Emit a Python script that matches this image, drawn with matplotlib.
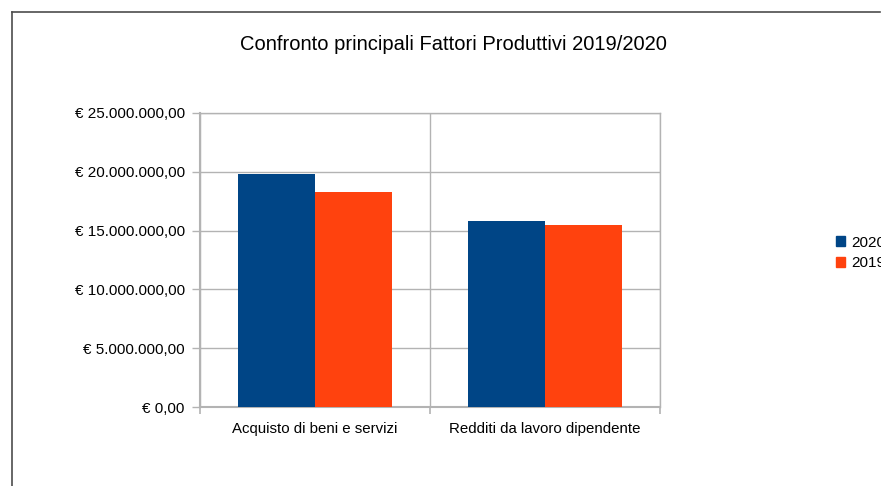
import matplotlib

matplotlib.use("Agg")
import matplotlib.pyplot as plt  # plotting
import numpy as np  # positions
from matplotlib.lines import Line2D
from matplotlib.patches import Patch

plt.rcParams["font.family"] = ["Liberation Sans", "DejaVu Sans"]

# data
categories = ["Acquisto di beni e servizi", "Redditi da lavoro dipendente"]
series_names = ["2020", "2019"]
values_2020 = [19800000, 15820000]
values_2019 = [18270000, 15480000]
y_ticks = [0, 5000000, 10000000, 15000000, 20000000, 25000000]
y_tick_labels = [
    "€ 0,00",
    "€ 5.000.000,00",
    "€ 10.000.000,00",
    "€ 15.000.000,00",
    "€ 20.000.000,00",
    "€ 25.000.000,00",
]

blue = "#004586"
orange = "#ff420e"
grid_col = "#b3b3b3"

W, H = 881, 486
fig = plt.figure(figsize=(W / 100, H / 100), dpi=100)

# outer frame (top and left edges visible)
fig.add_artist(Line2D([12 / W, 12 / W], [0, 1 - 12 / H], color="#4d4d4d", lw=1.2))
fig.add_artist(Line2D([12 / W, 880 / W], [1 - 12 / H, 1 - 12 / H], color="#4d4d4d", lw=1.2))

ax = fig.add_axes([200 / W, (H - 407) / H, 460 / W, 294 / H])

x = np.arange(len(categories)) + 0.5
bw = 77 / 230
ax.bar(x - bw / 2, values_2020, width=bw, color=blue, zorder=3)
ax.bar(x + bw / 2, values_2019, width=bw, color=orange, zorder=3)

ax.set_xlim(0, len(categories))
ax.set_ylim(0, 25000000)

ax.set_yticks(y_ticks)
ax.set_yticklabels(y_tick_labels, fontsize=11)
ax.yaxis.grid(True, color=grid_col, lw=1, zorder=0)

# category separators as major ticks, labels as minor ticks
ax.set_xticks(np.arange(len(categories) + 1))
ax.set_xticklabels([])
ax.set_xticks(x, minor=True)
ax.set_xticklabels(categories, minor=True, fontsize=10.8)
ax.tick_params(axis="x", which="minor", length=0, pad=11)
ax.tick_params(axis="x", which="major", length=5, color=grid_col, width=1.2)
ax.tick_params(axis="y", length=6, color=grid_col, width=1, pad=5)
ax.xaxis.grid(True, which="major", color=grid_col, lw=1, zorder=0)

for s in ax.spines.values():
    s.set_color(grid_col)
    s.set_linewidth(1)
ax.spines["left"].set_linewidth(1.5)
ax.spines["bottom"].set_linewidth(1.5)

fig.text(453 / W, 1 - 45 / H, "Confronto principali Fattori Produttivi 2019/2020",
         ha="center", va="center", fontsize=14.5)

# legend sits at the right edge and is clipped there, as in the original
handles = [Patch(color=blue), Patch(color=orange)]
fig.legend(handles, series_names, loc="center left", bbox_to_anchor=(830 / W, 1 - 253 / H),
           frameon=False, fontsize=11, handlelength=0.6, handleheight=0.6,
           handletextpad=0.4, labelspacing=0.45, borderaxespad=0)

fig.savefig("out.png", dpi=100)
